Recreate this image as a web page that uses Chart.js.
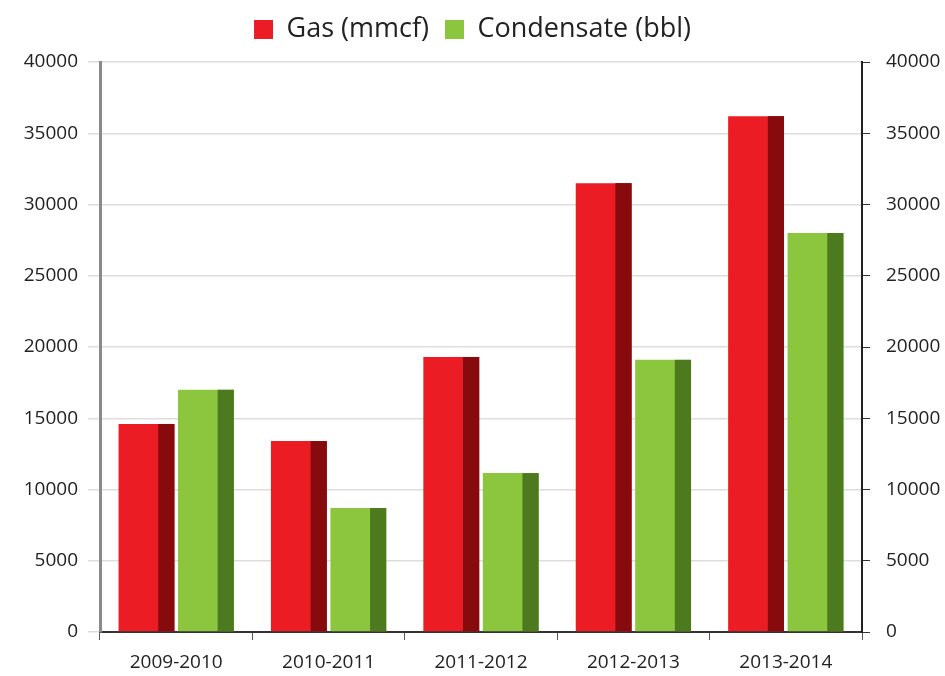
<!DOCTYPE html>
<html>
<head>
<meta charset="utf-8">
<script src="https://cdn.jsdelivr.net/npm/chart.js@4.4.1/dist/chart.umd.min.js"></script>
<style>
  html, body { margin: 0; padding: 0; background: #fff; }
  #wrap { width: 945px; height: 676px; }
</style>
</head>
<body>
<div id="wrap"><canvas id="grafico" width="945" height="676"></canvas></div>
<script>
// dados
const anos = ['2009-2010', '2010-2011', '2011-2012', '2012-2013', '2013-2014'];
const gas = [14600, 13400, 19300, 31500, 36200];
const condensado = [17000, 8700, 11150, 19100, 28000];
const ticksY = [0, 5000, 10000, 15000, 20000, 25000, 30000, 35000, 40000];

// cores claras e a faixa escura do lado direito de cada barra
const corGas = '#ec1c24';
const corGasEscura = '#870a0c';
const corCond = '#8cc63e';
const corCondEscura = '#4d7a1f';

// plugin que pinta a lateral escura das barras (efeito 3D)
const lateralEscura = {
    id: 'lateralEscura',
    afterDatasetsDraw(chart) {
        const ctx = chart.ctx;
        const escuras = [corGasEscura, corCondEscura];
        chart.data.datasets.forEach((ds, i) => {
            const meta = chart.getDatasetMeta(i);
            meta.data.forEach(bar => {
                const p = bar.getProps(['x', 'y', 'base', 'width'], true);
                const larg = p.width * 0.29;
                ctx.save();
                ctx.fillStyle = escuras[i];
                ctx.fillRect(p.x + p.width / 2 - larg, p.y, larg, p.base - p.y);
                ctx.restore();
            });
        });
    }
};

// altura fixa da legenda, para o gráfico começar na mesma altura do original
const alturaLegenda = {
    id: 'alturaLegenda',
    beforeInit(chart) {
        const fitOriginal = chart.legend.fit;
        chart.legend.fit = function() {
            fitOriginal.bind(chart.legend)();
            this.height = 62;
        };
    }
};

const fonte = "'Open Sans', 'DejaVu Sans', sans-serif";

const ctx = document.getElementById('grafico').getContext('2d');
const grafico = new Chart(ctx, {
    type: 'bar',
    data: {
        labels: anos,
        datasets: [
            { label: 'Gas (mmcf)', data: gas, backgroundColor: corGas, borderWidth: 0 },
            { label: 'Condensate (bbl)', data: condensado, backgroundColor: corCond, borderWidth: 0 }
        ]
    },
    options: {
        responsive: false,
        animation: false,
        categoryPercentage: 0.78,
        barPercentage: 0.94,
        layout: { padding: 0 },
        plugins: {
            legend: {
                position: 'top',
                labels: {
                    boxWidth: 19,
                    boxHeight: 19,
                    padding: 16,
                    color: '#222',
                    font: { family: fonte, size: 27 }
                }
            },
            tooltip: { enabled: false }
        },
        scales: {
            x: {
                offset: true,
                afterFit: axis => { axis.height = 44; },
                grid: {
                    offset: true,
                    drawOnChartArea: false,
                    drawTicks: true,
                    tickLength: 8,
                    color: '#555'
                },
                border: { color: '#333', width: 2 },
                ticks: { color: '#222', font: { family: fonte, size: 19 }, padding: 11 }
            },
            y: {
                position: 'left',
                min: 0,
                max: 40000,
                afterBuildTicks: axis => { axis.ticks = ticksY.map(v => ({ value: v })); },
                afterFit: axis => { axis.width = 100; },
                grid: { color: '#dddddd', tickLength: 12, lineWidth: 1.5 },
                border: { color: '#8a8a8a', width: 3 },
                ticks: { color: '#222', font: { family: fonte, size: 19 }, padding: 10, callback: v => String(v) }
            },
            y2: {
                position: 'right',
                min: 0,
                max: 40000,
                afterBuildTicks: axis => { axis.ticks = ticksY.map(v => ({ value: v })); },
                afterFit: axis => { axis.width = 83; },
                grid: { drawOnChartArea: false, tickLength: 8, color: '#333' },
                border: { color: '#222', width: 2 },
                ticks: { color: '#222', font: { family: fonte, size: 19 }, padding: 16, callback: v => String(v) }
            }
        }
    },
    plugins: [lateralEscura, alturaLegenda]
});
</script>
</body>
</html>
